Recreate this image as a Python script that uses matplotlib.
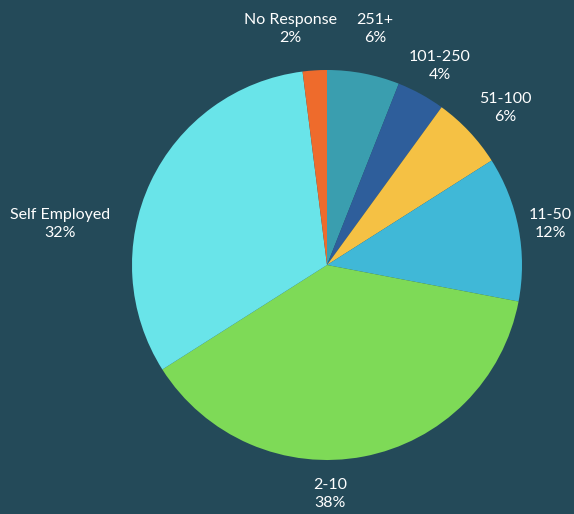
import numpy as np
import matplotlib.pyplot as plt

plt.rcParams['font.family'] = ['Lato', 'DejaVu Sans']

labels = ['251+', '101-250', '51-100', '11-50', '2-10', 'Self Employed', 'No Response']
values = [6, 4, 6, 12, 38, 32, 2]
colors = ['#3A9EAF', '#2E5E9B', '#F5C144', '#40B8D7', '#7EDA57', '#69E4E9', '#EE6B2C']
bg = '#244A59'

# where the labels sit, in pixels of the 574x514 picture (x, y from top)
label_px = [(375, 29), (440, 66), (505, 108), (550, 224), (330, 494), (60, 224), (290, 29)]

W, H = 574, 514
cx, cy, R = 327, 265, 195

fig = plt.figure(figsize=(W / 100, H / 100), dpi=100, facecolor=bg)
ax = fig.add_axes([0, 0, 1, 1])
ax.set_facecolor(bg)

wedges, texts = ax.pie(values, colors=colors, startangle=90, counterclock=False,
                       labels=[f'{l}\n{v}%' for l, v in zip(labels, values)],
                       wedgeprops=dict(linewidth=0),
                       textprops=dict(color='white', fontsize=11.5, ha='center', va='center',
                                      linespacing=1.4))

for t, (px, py) in zip(texts, label_px):
    t.set_position(((px - cx) / R, (cy - py) / R))
    t.set_ha('center')

ax.set_xlim(-cx / R, (W - cx) / R)
ax.set_ylim(-(H - cy) / R, cy / R)
ax.set_aspect('auto')
ax.axis('off')

fig.savefig('out.png', dpi=100, facecolor=bg)
